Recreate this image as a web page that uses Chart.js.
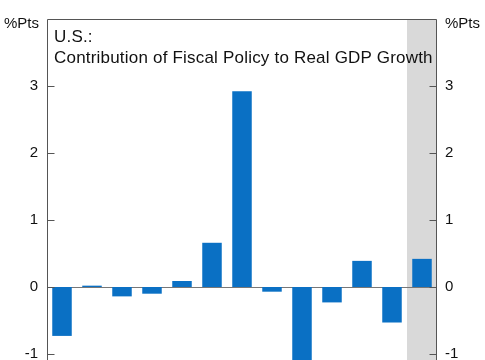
<!DOCTYPE html>
<html>
<head>
<meta charset="utf-8">
<script src="https://cdn.jsdelivr.net/npm/chart.js@4/dist/chart.umd.min.js"></script>
<style>
  html, body { margin: 0; padding: 0; background: #fff; overflow: hidden; }
  #wrap { position: relative; width: 485px; height: 360px; overflow: hidden; }
  canvas { position: absolute; left: 0; top: 0; }
  .lbl { position: absolute; font-family: "Liberation Sans", Arial, sans-serif; color: #111; white-space: nowrap; }
  .unit { font-size: 15px; line-height: 15px; top: 15px; }
  .title { font-size: 17px; line-height: 21px; letter-spacing: 0.2px; left: 54px; top: 26px; }
</style>
</head>
<body>
<div id="wrap">
  <canvas id="c" width="485" height="439"></canvas>
  <div class="lbl unit" style="left:4px;">%Pts</div>
  <div class="lbl unit" style="left:445px;">%Pts</div>
  <div class="lbl title">U.S.:<br>Contribution of Fiscal Policy to Real GDP Growth</div>
</div>
<script>
// Data
const categories = ['2014','2015','2016','2017','2018','2019','2020','2021','2022','2023','2024','2025','2026'];
const fiscalContribution = [-0.73, 0.02, -0.14, -0.10, 0.09, 0.66, 2.92, -0.07, -1.25, -0.23, 0.39, -0.53, 0.42];
const yTicks = [-1, 0, 1, 2, 3];
const shadedCategory = '2026';

const FRAME = '#555555';

const decor = {
  id: 'decor',
  beforeDatasetsDraw(chart) {
    const { ctx, chartArea: a, scales } = chart;
    const x = scales.x, y = scales.y;
    const idx = categories.indexOf(shadedCategory);
    const half = (x.getPixelForValue(1) - x.getPixelForValue(0)) / 2;
    const cx = x.getPixelForValue(idx);
    ctx.save();
    ctx.fillStyle = '#d9d9d9';
    ctx.fillRect(cx - half, a.top, a.right - (cx - half), a.bottom - a.top);
    const y0 = Math.round(y.getPixelForValue(0)) + 0.5;
    ctx.strokeStyle = '#777777';
    ctx.lineWidth = 1;
    ctx.beginPath();
    ctx.moveTo(a.left, y0);
    ctx.lineTo(a.right, y0);
    ctx.stroke();
    ctx.restore();
  },
  afterDraw(chart) {
    const { ctx, chartArea: a, scales } = chart;
    const y = scales.y;
    ctx.save();
    ctx.strokeStyle = FRAME;
    ctx.lineWidth = 1;
    const L = Math.round(a.left) + 0.5, R = Math.round(a.right) - 0.5, T = Math.round(a.top) + 0.5, B = Math.round(a.bottom) - 0.5;
    ctx.beginPath();
    ctx.moveTo(L, B); ctx.lineTo(L, T); ctx.lineTo(R, T); ctx.lineTo(R, B); ctx.lineTo(L, B);
    ctx.stroke();
    ctx.beginPath();
    yTicks.forEach(v => {
      const py = Math.round(y.getPixelForValue(v)) + 0.5;
      ctx.moveTo(L, py); ctx.lineTo(L + 7, py);
      ctx.moveTo(R, py); ctx.lineTo(R - 7, py);
    });
    ctx.stroke();
    ctx.restore();
  }
};

const tickFont = { family: '"Liberation Sans", Arial, sans-serif', size: 15 };
const tickCb = v => yTicks.includes(v) ? String(v) : '';

new Chart(document.getElementById('c'), {
  type: 'bar',
  data: {
    labels: categories,
    datasets: [{
      data: fiscalContribution,
      backgroundColor: '#0a70c4',
      borderWidth: 0,
      barPercentage: 0.65,
      categoryPercentage: 1.0
    }]
  },
  options: {
    responsive: false,
    animation: false,
    layout: { padding: { top: 19, bottom: 0, left: 0, right: 0 } },
    plugins: { legend: { display: false }, tooltip: { enabled: false }, title: { display: false } },
    scales: {
      x: { display: false, offset: true },
      y: {
        position: 'left', min: -2, max: 4,
        afterFit(s) { s.width = 47; },
        grid: { display: false, drawTicks: false },
        border: { display: false },
        ticks: { stepSize: 1, padding: 9, color: '#111', font: tickFont, callback: tickCb }
      },
      y2: {
        position: 'right', min: -2, max: 4,
        afterFit(s) { s.width = 48; },
        grid: { display: false, drawTicks: false },
        border: { display: false },
        ticks: { stepSize: 1, padding: 8, color: '#111', font: tickFont, callback: tickCb }
      }
    }
  },
  plugins: [decor]
});
</script>
</body>
</html>
